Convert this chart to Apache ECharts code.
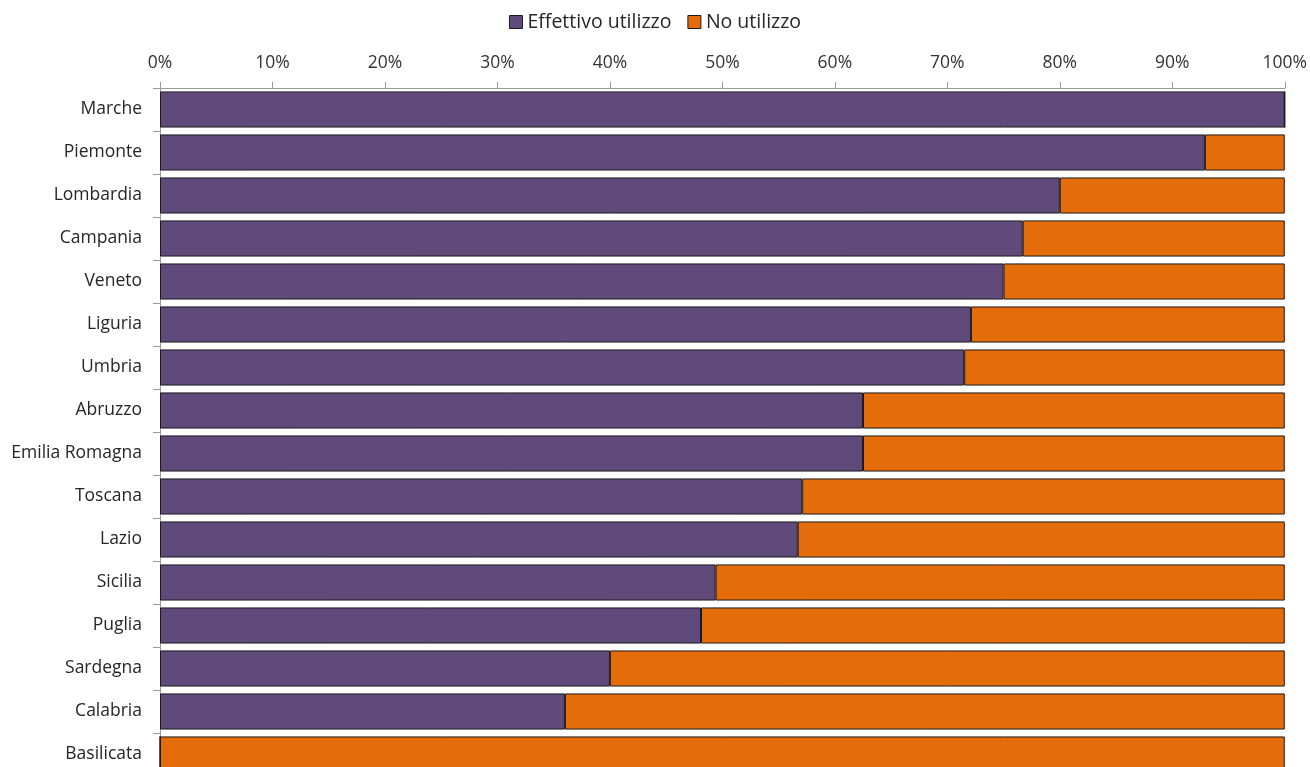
<!DOCTYPE html>
<html>
<head>
<meta charset="utf-8">
<script src="https://cdn.jsdelivr.net/npm/echarts@6/dist/echarts.min.js"></script>
<style>
  html, body { margin: 0; padding: 0; background: #fff; overflow: hidden; }
  /* taller than the window: the reference chart is cut off at the bottom */
  #chart { width: 1310px; height: 780px; }
</style>
</head>
<body>
<div id="chart"></div>
<script>
// regions, top to bottom
var regions = ['Marche', 'Piemonte', 'Lombardia', 'Campania', 'Veneto', 'Liguria', 'Umbria', 'Abruzzo',
  'Emilia Romagna', 'Toscana', 'Lazio', 'Sicilia', 'Puglia', 'Sardegna', 'Calabria', 'Basilicata'];
// share in %
var effettivo = [100, 92.9, 80, 76.7, 75, 72.1, 71.5, 62.5, 62.5, 57.1, 56.7, 49.4, 48.1, 40, 36, 0];
var noUtilizzo = [0, 7.1, 20, 23.3, 25, 27.9, 28.5, 37.5, 37.5, 42.9, 43.3, 50.6, 51.9, 60, 64, 100];
var seriesNames = ['Effettivo utilizzo', 'No utilizzo'];
var colors = ['#604A7B', '#E46C0A'];

var font = "'Open Sans', 'Noto Sans', sans-serif";
var chart = echarts.init(document.getElementById('chart'));

function bar(name, data, color) {
  return {
    name: name, type: 'bar', stack: 'tot', data: data,
    barCategoryGap: '16%',
    itemStyle: { color: color, borderColor: '#1a1a1a', borderWidth: 1 },
    emphasis: { disabled: true }
  };
}

chart.setOption({
  animation: false,
  textStyle: { fontFamily: font },
  legend: {
    top: 7, left: 'center', itemGap: 16, itemWidth: 13, itemHeight: 13,
    icon: 'rect',
    itemStyle: { borderColor: '#1a1a1a', borderWidth: 1 },
    textStyle: { fontSize: 19.5, color: '#262626', fontFamily: font },
    data: seriesNames
  },
  grid: { left: 160, top: 88, right: 25, bottom: 4 },
  xAxis: {
    type: 'value', position: 'top', min: 0, max: 100, interval: 10,
    axisLine: { show: true, lineStyle: { color: '#9a9a9a' } },
    axisTick: { show: true, length: 6, lineStyle: { color: '#9a9a9a' } },
    splitLine: { show: false },
    axisLabel: { formatter: '{value}%', fontSize: 17.5, color: '#333', margin: 16, fontFamily: font }
  },
  yAxis: {
    type: 'category', inverse: true, data: regions,
    axisLine: { show: true, lineStyle: { color: '#9a9a9a' } },
    axisTick: { show: true, length: 7, lineStyle: { color: '#9a9a9a' } },
    axisLabel: { fontSize: 17.5, color: '#262626', margin: 18, fontFamily: font }
  },
  series: [bar(seriesNames[0], effettivo, colors[0]), bar(seriesNames[1], noUtilizzo, colors[1])]
});
</script>
</body>
</html>
